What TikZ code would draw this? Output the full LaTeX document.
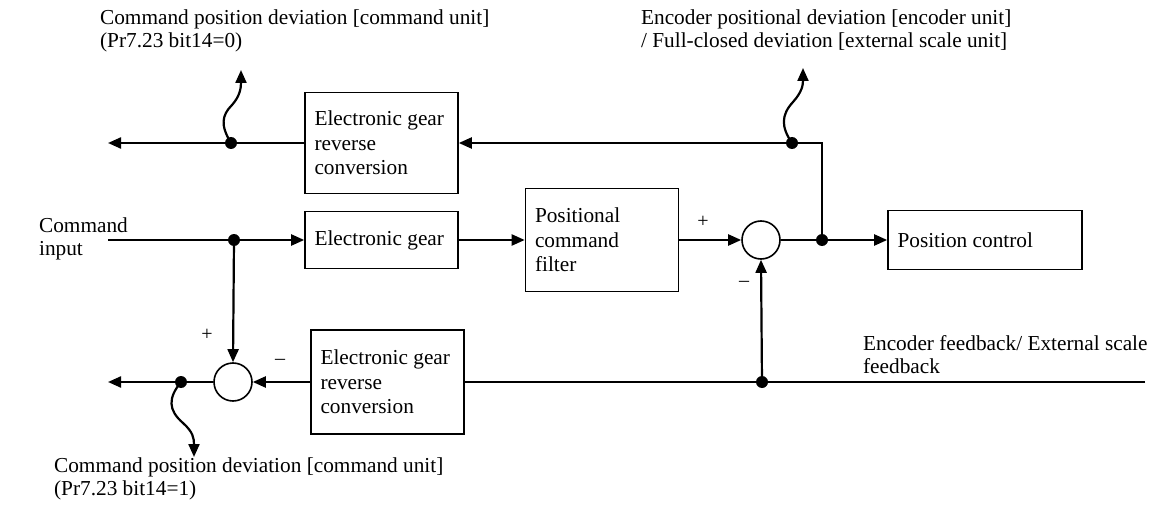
\documentclass[tikz,border=0pt]{standalone}
\usepackage{fontspec}
\setmainfont{Liberation Serif}
\usetikzlibrary{arrows.meta}
\newcommand\labfont{\fontsize{21.3}{23}\selectfont}
\newcommand\boxfont{\fontsize{21.3}{24.5}\selectfont}
\newcommand\pmfont{\fontsize{20}{22}\selectfont}
\begin{document}
\begin{tikzpicture}[x=1pt,y=-1pt,
  line width=2.2pt,
  blk/.style={draw, line width=1.6pt, rectangle, minimum width=153pt, text width=134pt, inner xsep=9.5pt, align=flush left, font=\boxfont},
  sum/.style={draw, line width=1.6pt, circle, minimum size=38pt, inner sep=0pt},
  dot/.style={fill, circle, minimum size=12pt, inner sep=0pt},
  arr/.style={-{Triangle[length=13pt,width=11pt]}},
  lbl/.style={font=\labfont, align=flush left, inner sep=0pt},
  pm/.style={font=\pmfont, inner sep=0pt}]
\useasboundingbox (0,0) rectangle (1160,508);

% blocks
\node[blk, minimum height=101pt] (rev1) at (381.5,143) {Electronic gear\\reverse\\conversion};
\node[blk, minimum height=57pt] (gear) at (381.5,240) {Electronic gear};
\node[blk, minimum height=103pt] (filt) at (602,240) {Positional\\command\\filter};
\node[blk, minimum height=59pt, minimum width=194pt, text width=175pt] (pos) at (985,240) {Position control};
\node[blk, minimum height=104pt] (rev2) at (387.5,382) {Electronic gear\\reverse\\conversion};

% summing points
\node[sum] (s1) at (761,240) {};
\node[sum] (s2) at (233,382) {};

% junction dots
\node[dot] (dB) at (234,240) {};
\node[dot] (dA) at (822,240) {};
\node[dot] (dE) at (792,143) {};
\node[dot] (dD) at (231,143) {};
\node[dot] (dF) at (762,382) {};
\node[dot] (dC) at (181,382) {};

% free ends
\coordinate (inStart) at (108,240);
\coordinate (topOut) at (108,143);
\coordinate (botOut) at (108,382);
\coordinate (fbStart) at (1145,382);
\coordinate (tipD) at (241,70);
\coordinate (tipE) at (803,68);
\coordinate (tipC) at (194,457);

% main path
\draw (inStart) -- (dB.center);
\draw[arr] (dB.center) -- (gear.west);
\draw[arr] (gear.east) -- (filt.west);
\draw[arr] (filt.east) -- (s1.west);
\draw (s1.east) -- (dA.center);
\draw[arr] (dA.center) -- (pos.west);

% upper feedback
\draw[arr] (dA.center) |- (rev1.east);
\draw[arr] (rev1.west) -- (topOut);
\draw[arr] (dD.center) .. controls (220,125) and (222,115) .. (232,105) .. controls (240,96) and (241,88) .. (tipD);
\draw[arr] (dE.center) .. controls (781,127) and (781,115) .. (793,102) .. controls (802,92) and (803,85) .. (tipE);

% lower feedback
\draw (fbStart) -- (rev2.east);
\draw[arr] (dF.center) -- (s1.south);
\draw[arr] (rev2.west) -- (s2.east);
\draw[arr] (dB.center) -- (s2.north);
\draw[arr] (s2.west) -- (botOut);
\draw[arr] (dC.center) .. controls (168,398) and (168,410) .. (183,423) .. controls (193,432) and (194,438) .. (tipC);

% signs
\node[pm] (p1) at (703,222) {+};
\node[pm] (m1) at (744,284) {--};
\node[pm] (p2) at (207,335) {+};
\node[pm] (m2) at (280,362) {--};

% labels
\node[lbl, anchor=north west] (ltl) at (99,9) {Command position deviation [command unit]\\(Pr7.23 bit14=0)};
\node[lbl, anchor=north west] (ltr) at (640,9) {Encoder positional deviation [encoder unit]\\/ Full-closed deviation [external scale unit]};
\node[lbl, anchor=west] (lin) at (38,239) {Command\\input};
\node[lbl, anchor=north west] (lfb) at (862,334) {Encoder feedback/ External scale\\feedback};
\node[lbl, anchor=north west] (lbot) at (53,457) {Command position deviation [command unit]\\(Pr7.23 bit14=1)};
\end{tikzpicture}
\end{document}
